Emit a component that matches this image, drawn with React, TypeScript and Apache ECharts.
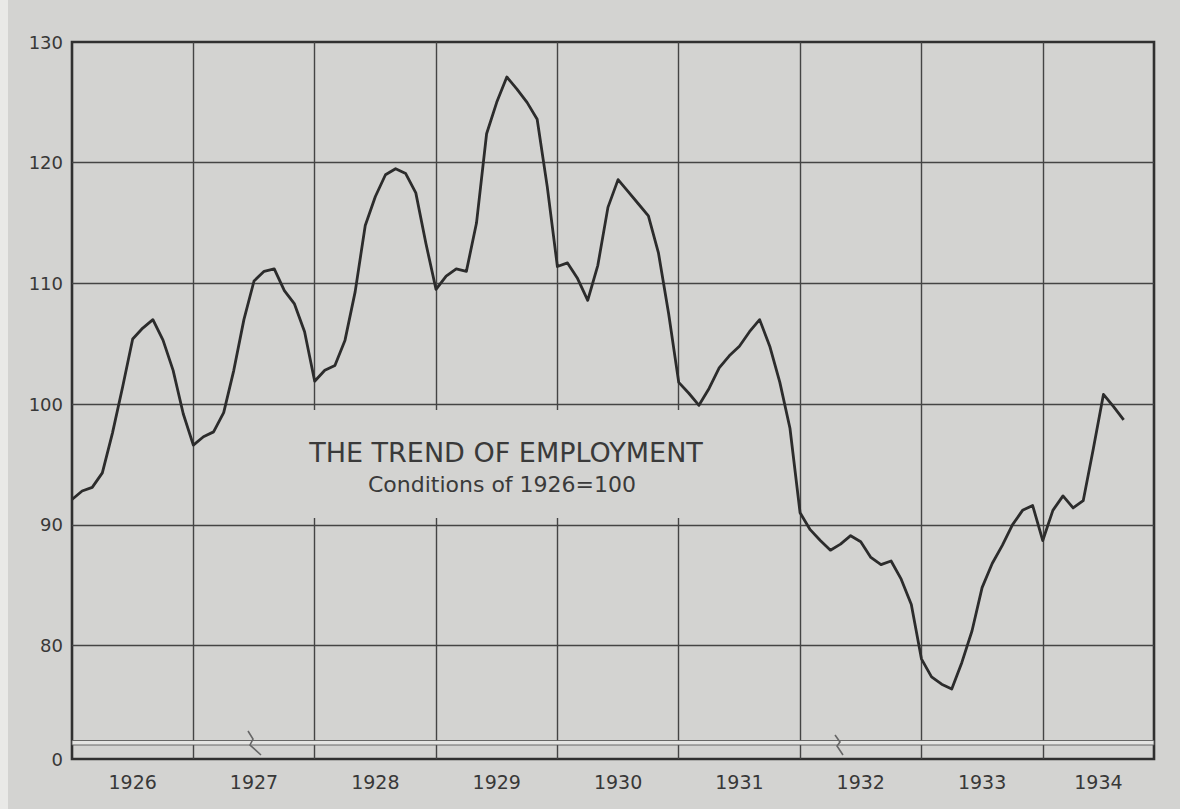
import React, { useEffect, useRef } from "react";
import * as echarts from "echarts";

// ---- data ----
const YEARS = ["1926", "1927", "1928", "1929", "1930", "1931", "1932", "1933", "1934"];

// monthly index, Jan 1926 .. Sep 1934 (conditions of 1926 = 100)
const EMPLOYMENT_1926 = [92.1, 92.8, 93.1, 94.3, 97.6, 101.4, 105.4, 106.3, 107.0, 105.3, 102.8, 99.2];
const EMPLOYMENT_1927 = [96.6, 97.3, 97.7, 99.3, 102.8, 107.0, 110.2, 111.0, 111.2, 109.4, 108.3, 106.0];
const EMPLOYMENT_1928 = [101.9, 102.8, 103.2, 105.3, 109.3, 114.8, 117.2, 119.0, 119.5, 119.1, 117.5, 113.3];
const EMPLOYMENT_1929 = [109.5, 110.6, 111.2, 111.0, 115.0, 122.4, 125.0, 127.1, 126.1, 125.0, 123.6, 118.0];
const EMPLOYMENT_1930 = [111.4, 111.7, 110.4, 108.6, 111.5, 116.3, 118.6, 117.6, 116.6, 115.6, 112.5, 107.5];
const EMPLOYMENT_1931 = [101.8, 100.9, 99.9, 101.3, 103.0, 104.0, 104.8, 106.0, 107.0, 104.8, 101.8, 98.0];
const EMPLOYMENT_1932 = [91.0, 89.6, 88.7, 87.9, 88.4, 89.1, 88.6, 87.3, 86.7, 87.0, 85.5, 83.4];
const EMPLOYMENT_1933 = [78.9, 77.4, 76.8, 76.4, 78.6, 81.2, 84.8, 86.8, 88.3, 90.0, 91.2, 91.6];
const EMPLOYMENT_1934 = [88.7, 91.2, 92.4, 91.4, 92.0, 96.3, 100.8, 99.8, 98.7];

const EMPLOYMENT = [
  ...EMPLOYMENT_1926,
  ...EMPLOYMENT_1927,
  ...EMPLOYMENT_1928,
  ...EMPLOYMENT_1929,
  ...EMPLOYMENT_1930,
  ...EMPLOYMENT_1931,
  ...EMPLOYMENT_1932,
  ...EMPLOYMENT_1933,
  ...EMPLOYMENT_1934,
];

const Y_TICKS = [80, 90, 100, 110, 120, 130];
const Y_BOTTOM = 70.6; // broken axis: baseline labelled "0"
const Y_BOTTOM_LABEL = "0";
const MONTHS_SHOWN = 107; // axis ends late in 1934

const TITLE = "THE TREND OF EMPLOYMENT";
const SUBTITLE = "Conditions of 1926=100";

const BG = "#d3d3d1";
const INK = "#2c2c2c";
const GRID_INK = "#444444";
const TEXT_INK = "#383838";

export default function App() {
  const ref = useRef<HTMLDivElement>(null);

  useEffect(() => {
    if (!ref.current) return;
    const chart = echarts.init(ref.current, null, { renderer: "svg" });

    const yearLabelPos = YEARS.map((_, i) => {
      const start = i * 12;
      const end = Math.min((i + 1) * 12, MONTHS_SHOWN);
      return (start + end) / 2;
    });

    const markData: any[] = [
      ...Y_TICKS.filter((v) => v < 130).map((v) => ({ yAxis: v })),
      ...YEARS.slice(1).map((_, i) => ({ xAxis: (i + 1) * 12 })),
    ];

    const option: any = {
      animation: false,
      backgroundColor: BG,
      grid: {
        left: 72,
        right: 26,
        top: 42,
        bottom: 50,
        show: true,
        borderColor: "#303030",
        borderWidth: 2.6,
        backgroundColor: "transparent",
      },
      xAxis: {
        type: "value",
        min: 0,
        max: MONTHS_SHOWN,
        axisLine: { show: false },
        axisTick: { show: false },
        splitLine: { show: false },
        axisLabel: {
          customValues: yearLabelPos,
          formatter: (v: number) => YEARS[Math.min(YEARS.length - 1, Math.floor(v / 12))],
          color: TEXT_INK,
          fontSize: 19,
          fontFamily: "DejaVu Sans",
          margin: 13,
        },
      },
      yAxis: {
        type: "value",
        min: Y_BOTTOM,
        max: 130,
        axisLine: { show: false },
        axisTick: { show: false },
        splitLine: { show: false },
        axisLabel: {
          customValues: [Y_BOTTOM, ...Y_TICKS],
          formatter: (v: number) => (Math.abs(v - Y_BOTTOM) < 0.01 ? Y_BOTTOM_LABEL : String(v)),
          color: TEXT_INK,
          fontSize: 18,
          fontFamily: "DejaVu Sans",
          margin: 9,
        },
      },
      series: [
        {
          type: "line",
          data: EMPLOYMENT.map((v, i) => [i, v]),
          showSymbol: false,
          symbol: "none",
          lineStyle: { color: INK, width: 2.8, join: "round" },
          z: 5,
          markLine: {
            silent: true,
            symbol: ["none", "none"],
            label: { show: false },
            lineStyle: { color: GRID_INK, width: 1.4, type: "solid" },
            data: markData,
            z: 3,
          },
        },
      ],
      graphic: [
        { type: "rect", z: 1, shape: { x: 0, y: 0, width: 8, height: 809 }, style: { fill: "#e9e9e7" } },
        // knock-out box behind the title
        { type: "rect", z: 50, shape: { x: 250, y: 410, width: 500, height: 108 }, style: { fill: BG } },
        {
          type: "text",
          z: 60,
          x: 506,
          y: 452,
          style: {
            text: TITLE,
            fill: "#3a3a3a",
            font: '27px "DejaVu Sans", sans-serif',
            textAlign: "center",
            textVerticalAlign: "middle",
          },
        },
        {
          type: "text",
          z: 60,
          x: 502,
          y: 484,
          style: {
            text: SUBTITLE,
            fill: "#3a3a3a",
            font: '22px "DejaVu Sans", sans-serif',
            textAlign: "center",
            textVerticalAlign: "middle",
          },
        },
        // axis break band
        {
          type: "rect",
          z: 50,
          shape: { x: 72, y: 740.5, width: 1082, height: 4.5 },
          style: { fill: "#e4e4e2", stroke: "#5a5a5a", lineWidth: 0.9 },
        },
        {
          type: "polyline",
          z: 55,
          shape: { points: [[248, 731], [253, 739], [250, 745], [261, 755]] },
          style: { stroke: "#666", lineWidth: 1.6, fill: "none" },
        },
        {
          type: "polyline",
          z: 55,
          shape: { points: [[835, 735], [840, 742], [837, 746], [843, 755]] },
          style: { stroke: "#666", lineWidth: 1.6, fill: "none" },
        },
      ],
    };

    chart.setOption(option);
    return () => chart.dispose();
  }, []);

  return (
    <div
      ref={ref}
      style={{ position: "fixed", left: 0, top: 0, width: 1180, height: 809 }}
    />
  );
}
